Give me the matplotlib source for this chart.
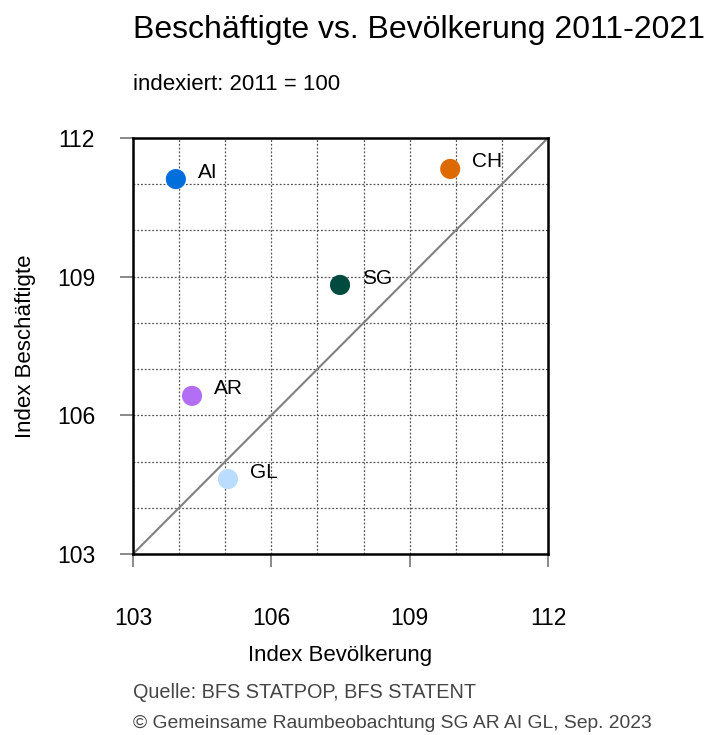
import matplotlib
matplotlib.use("Agg")
import matplotlib.pyplot as plt

plt.rcParams['font.family'] = ['Liberation Sans', 'DejaVu Sans']

regions = ["AI", "CH", "SG", "AR", "GL"]
bevoelkerung = [103.93, 109.88, 107.49, 104.28, 105.06]
beschaeftigte = [111.11, 111.33, 108.82, 106.42, 104.62]
colors = ["#006fdc", "#dc6a00", "#004a3f", "#b26ef5", "#b9dcff"]
ticks = [103, 106, 109, 112]
minor = [104, 105, 107, 108, 110, 111]

fig = plt.figure(figsize=(7.10, 7.35), dpi=100)
ax = fig.add_axes([0.1873, 0.2463, 0.5845, 0.5660])

ax.set_xlim(103, 112)
ax.set_ylim(103, 112)
ax.set_xticks(ticks)
ax.set_yticks(ticks)
ax.set_xticks(minor, minor=True)
ax.set_yticks(minor, minor=True)
ax.grid(True, which='both', linestyle=(0, (1.5, 1.5)), color='#555555', linewidth=0.9)
ax.tick_params(which='minor', length=0)
ax.tick_params(which='major', length=9.3, width=1.2, color='#777777', direction='out',
               labelsize=16.5)
ax.tick_params(axis='x', pad=29)
ax.tick_params(axis='y', pad=18)
for s in ax.spines.values():
    s.set_linewidth(1.8)
    s.set_color('black')
ax.set_axisbelow(True)

ax.plot([103, 112], [103, 112], color='#808080', linewidth=1.5, zorder=2)

ax.scatter(bevoelkerung, beschaeftigte, s=210, c=colors, zorder=3, linewidths=0)
for r, x, y in zip(regions, bevoelkerung, beschaeftigte):
    ax.annotate(r, (x, y), xytext=(16, 5), textcoords='offset points',
                fontsize=15, ha='left', va='center', color='black')

ax.set_xlabel("Index Bevölkerung", fontsize=16, labelpad=11)
ax.set_ylabel("Index Beschäftigte", fontsize=16, labelpad=15)

fig.text(133/710, 1 - 30/735, "Beschäftigte vs. Bevölkerung 2011-2021",
         fontsize=23, ha='left', va='center')
fig.text(133/710, 1 - 85/735, "indexiert: 2011 = 100",
         fontsize=16, ha='left', va='center')
fig.text(133/710, 1 - 692/735, "Quelle: BFS STATPOP, BFS STATENT",
         fontsize=14.3, ha='left', va='center', color='#454545')
fig.text(133/710, 1 - 723/735, "© Gemeinsame Raumbeobachtung SG AR AI GL, Sep. 2023",
         fontsize=13.9, ha='left', va='center', color='#454545')

fig.savefig("out.png", dpi=100)
